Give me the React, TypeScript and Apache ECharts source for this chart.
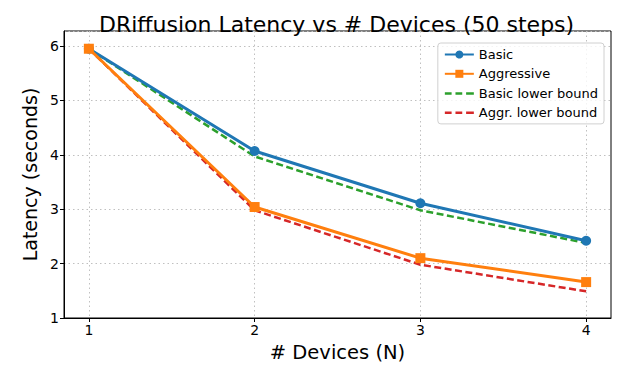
import React, { useEffect, useRef } from "react";
import * as echarts from "echarts";

const devices = [1, 2, 3, 4];
const basic = [5.95, 4.07, 3.11, 2.42];
const aggressive = [5.95, 3.04, 2.1, 1.66];
const basicLower = [5.95, 3.97, 2.98, 2.38];
const aggrLower = [5.95, 2.98, 1.98, 1.49];
const xTicks = [1, 2, 3, 4];

const FONT = "DejaVu Sans";
const DASH_ICON =
  "path://M0,0h0.01v0.01h-0.01zM0,4h7v2.6h-7zM11,4h7v2.6h-7zM22,4h8v2.6h-8zM29.99,10h0.01v0.01h-0.01z";

function pairs(vals: number[]) {
  return devices.map((d, i) => [d, vals[i]]);
}

export default function App() {
  const ref = useRef<HTMLDivElement>(null);
  useEffect(() => {
    if (!ref.current) return;
    const chart = echarts.init(ref.current, undefined, { renderer: "svg" });
    chart.setOption({
      animation: false,
      backgroundColor: "#fff",
      title: {
        text: "DRiffusion Latency vs # Devices (50 steps)",
        left: 94,
        top: 8,
        textStyle: { fontFamily: FONT, fontSize: 22, fontWeight: "normal", color: "#000" },
      },
      grid: {
        left: 64,
        right: 15,
        top: 31,
        bottom: 58,
        show: true,
        borderColor: "#000",
        borderWidth: 1,
        backgroundColor: "transparent",
      },
      legend: {
        orient: "vertical",
        right: 22,
        top: 43,
        itemWidth: 29,
        itemHeight: 10,
        itemGap: 6.3,
        padding: [5, 6, 5, 6],
        backgroundColor: "rgba(255,255,255,0.8)",
        borderColor: "#d0d0d0",
        borderWidth: 1,
        borderRadius: 3,
        textStyle: { fontFamily: FONT, fontSize: 13, color: "#000" },
        data: [
          { name: "Basic" },
          { name: "Aggressive" },
          { name: "Basic lower bound", icon: DASH_ICON },
          { name: "Aggr. lower bound", icon: DASH_ICON },
        ],
      },
      xAxis: {
        type: "value",
        min: 0.85,
        max: 4.15,
        name: "# Devices (N)",
        nameLocation: "middle",
        nameGap: 24,
        nameTextStyle: { fontFamily: FONT, fontSize: 19.5, color: "#000" },
        axisLine: { show: true, lineStyle: { color: "#000", width: 1 } },
        axisTick: { show: true, length: 4, customValues: xTicks, lineStyle: { color: "#000" } },
        axisLabel: {
          customValues: xTicks,
          fontFamily: FONT,
          fontSize: 14,
          color: "#000",
          margin: 5,
        },
        splitLine: { show: true, lineStyle: { color: "#c0c0c0", type: [1.5, 3], width: 1 } },
      },
      yAxis: {
        type: "value",
        min: 1,
        max: 6.276,
        interval: 1,
        name: "Latency (seconds)",
        nameLocation: "middle",
        nameGap: 22,
        nameTextStyle: { fontFamily: FONT, fontSize: 19, color: "#000" },
        axisLine: { show: true, lineStyle: { color: "#000", width: 1 } },
        axisTick: { show: true, length: 4, lineStyle: { color: "#000" } },
        axisLabel: {
          fontFamily: FONT,
          fontSize: 14,
          color: "#000",
          margin: 5,
          showMaxLabel: false,
        },
        splitLine: { show: true, lineStyle: { color: "#c0c0c0", type: [1.5, 3], width: 1 } },
      },
      series: [
        {
          name: "Basic lower bound",
          type: "line",
          data: pairs(basicLower),
          symbol: "none",
          lineStyle: { color: "#2ca02c", width: 2.5, type: [7, 3.5] },
          itemStyle: { color: "#2ca02c" },
          z: 2,
        },
        {
          name: "Aggr. lower bound",
          type: "line",
          data: pairs(aggrLower),
          symbol: "none",
          lineStyle: { color: "#d62728", width: 2.5, type: [7, 3.5] },
          itemStyle: { color: "#d62728" },
          z: 2,
        },
        {
          name: "Basic",
          type: "line",
          data: pairs(basic),
          symbol: "circle",
          symbolSize: 10,
          lineStyle: { color: "#1f77b4", width: 3 },
          itemStyle: { color: "#1f77b4" },
          z: 3,
        },
        {
          name: "Aggressive",
          type: "line",
          data: pairs(aggressive),
          symbol: "rect",
          symbolSize: 10,
          lineStyle: { color: "#ff7f0e", width: 3 },
          itemStyle: { color: "#ff7f0e" },
          z: 4,
        },
      ],
    });
    return () => chart.dispose();
  }, []);
  return <div ref={ref} style={{ width: 626, height: 376, position: "absolute", left: 0, top: 0 }} />;
}
